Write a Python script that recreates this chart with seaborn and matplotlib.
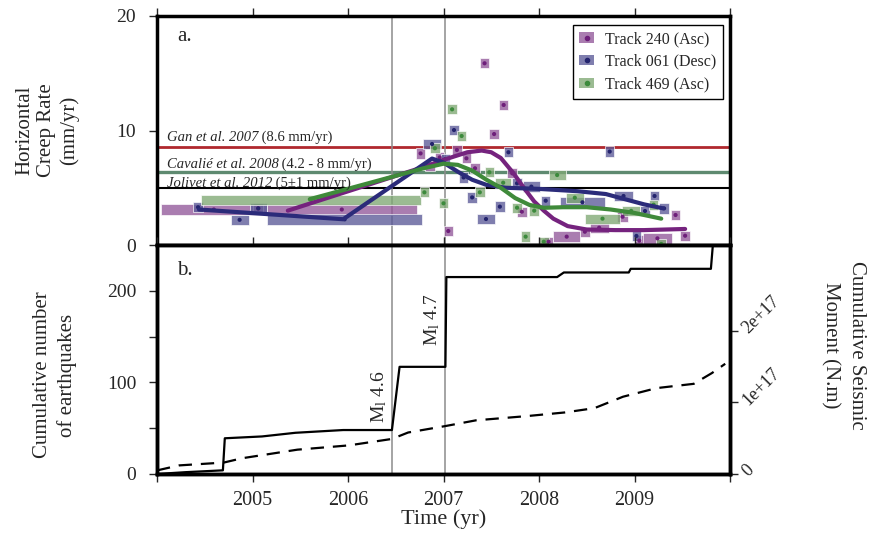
import numpy as np
import matplotlib
matplotlib.use("Agg")
import matplotlib.pyplot as plt
from matplotlib.patches import Patch
from matplotlib.lines import Line2D
from matplotlib.legend_handler import HandlerTuple
import seaborn as sns

##---------------- DATA ----------------
# creep rate estimates: start / end of each time span (equal -> single square), rate in mm/yr
t240_start = [2004.04, 2005.15, 2005.06, 2006.76, 2006.86, 2006.96, 2007.05, 2007.14, 2007.24, 2007.33,
              2007.43, 2007.53, 2007.63, 2007.72, 2007.82, 2008.10, 2008.15, 2008.48, 2008.53, 2008.82,
              2009.05, 2009.09, 2009.43, 2009.53]
t240_end = [2005.15, 2006.72, 2005.06, 2006.76, 2006.86, 2006.96, 2007.05, 2007.14, 2007.24, 2007.33,
            2007.43, 2007.53, 2007.63, 2007.72, 2007.82, 2008.10, 2008.43, 2008.48, 2008.73, 2008.93,
            2009.05, 2009.39, 2009.43, 2009.53]
t240_rate = [3.1, 3.1, 3.2, 8.0, 6.9, 7.65, 1.22, 8.3, 7.57, 6.7,
             15.87, 9.69, 12.23, 6.26, 2.9, 0.29, 0.73, 1.16, 1.51, 2.47,
             0.38, 0.58, 2.62, 0.81]

t061_start = [2004.43, 2004.77, 2004.97, 2005.15, 2006.79, 2007.02, 2007.11, 2007.21, 2007.30, 2007.35,
              2007.59, 2007.68, 2007.77, 2007.83, 2008.07, 2008.22, 2008.74, 2008.79, 2009.02, 2009.11,
              2009.21, 2009.31]
t061_end = [2004.43, 2004.96, 2005.15, 2006.78, 2006.97, 2007.02, 2007.11, 2007.21, 2007.30, 2007.54,
            2007.59, 2007.68, 2007.77, 2008.01, 2008.07, 2008.69, 2008.74, 2008.98, 2009.02, 2009.11,
            2009.21, 2009.31]
t061_rate = [3.3, 2.2, 3.2, 2.24, 8.82, 7.5, 10.04, 5.9, 4.16, 2.27,
             3.35, 8.1, 5.39, 5.1, 3.87, 3.73, 8.16, 4.28, 0.79, 2.97,
             4.28, 3.2]

t469_start = [2004.46, 2006.80, 2006.91, 2007.00, 2007.09, 2007.19, 2007.38, 2007.48, 2007.54, 2007.77,
              2007.86, 2007.95, 2008.05, 2008.10, 2008.28, 2008.48, 2008.87, 2009.20, 2009.28]
t469_end = [2006.76, 2006.80, 2006.91, 2007.00, 2007.09, 2007.19, 2007.38, 2007.48, 2007.71, 2007.77,
            2007.86, 2007.95, 2008.05, 2008.28, 2008.47, 2008.85, 2009.06, 2009.20, 2009.28]
t469_rate = [3.96, 4.6, 8.45, 3.64, 11.85, 9.52, 4.6, 6.35, 5.44, 3.26,
             0.73, 3.0, 0.29, 6.11, 4.13, 2.3, 2.98, 3.52, 0.09]

# smoothed creep rate curves
c240_t = [2005.37, 2006.86, 2006.95, 2007.10, 2007.25, 2007.40, 2007.50, 2007.60, 2007.73, 2007.85,
          2007.95, 2008.05, 2008.15, 2008.30, 2008.50, 2008.80, 2009.10, 2009.53]
c240_v = [3.0, 7.0, 7.3, 7.7, 8.1, 8.25, 8.1, 7.6, 6.3, 4.9,
          3.8, 3.0, 2.3, 1.65, 1.35, 1.3, 1.3, 1.4]
c061_t = [2004.44, 2005.95, 2006.88, 2007.00, 2007.15, 2007.30, 2007.45, 2007.65, 2008.00, 2008.40,
          2008.70, 2008.90, 2009.10, 2009.30]
c061_v = [3.1, 2.25, 7.55, 7.2, 6.4, 5.7, 5.25, 5.0, 4.9, 4.7,
          4.45, 4.0, 3.55, 3.2]
c469_t = [2005.60, 2006.79, 2007.00, 2007.15, 2007.30, 2007.45, 2007.60, 2007.75, 2007.90, 2008.05,
          2008.25, 2008.50, 2008.75, 2009.00, 2009.28]
c469_v = [4.0, 6.7, 7.1, 7.0, 6.5, 5.7, 5.0, 4.1, 3.5, 3.25,
          3.3, 3.3, 3.1, 2.8, 2.3]

# previous studies
ref_rates = [8.6, 6.4, 5.0]
ref_labels = [("Gan et al. 2007", " (8.6 mm/yr)"),
              ("Cavalié et al. 2008", " (4.2 - 8 mm/yr)"),
              ("Jolivet et al. 2012", " (5±1 mm/yr)")]

# seismicity
eq_t = [2004.0, 2004.3, 2004.69, 2004.71, 2005.1, 2005.45, 2005.95, 2006.46, 2006.54, 2007.02,
        2007.03, 2008.19, 2008.26, 2008.94, 2008.96, 2009.80, 2009.83]
eq_n = [0, 2, 4, 39, 41, 45, 48, 48, 117, 117,
        215, 215, 220, 220, 224, 224, 262]
mo_t = [2004.0, 2004.23, 2004.70, 2004.89, 2005.47, 2006.01, 2006.46, 2006.63, 2007.02, 2007.34,
        2007.88, 2008.27, 2008.58, 2008.88, 2009.23, 2009.62, 2009.81, 2009.95]
mo_v = [0.05e17, 0.12e17, 0.16e17, 0.22e17, 0.34e17, 0.40e17, 0.49e17, 0.58e17, 0.67e17, 0.75e17,
        0.81e17, 0.86e17, 0.92e17, 1.08e17, 1.20e17, 1.26e17, 1.41e17, 1.54e17]

events_t = [2006.46, 2007.02]
events_lbl = ["M$_\\mathregular{l}$ 4.6", "M$_\\mathregular{l}$ 4.7"]

years = [2004, 2005, 2006, 2007, 2008, 2009, 2010]

##---------------- STYLE ----------------
sns.set_style("ticks")
plt.rcParams['font.family'] = ['Liberation Serif', 'DejaVu Serif']
plt.rcParams['mathtext.fontset'] = 'custom'
plt.rcParams['mathtext.rm'] = 'Liberation Serif'
plt.rcParams['mathtext.it'] = 'Liberation Serif:italic'

colors = {"240": ("#93589a", "#6e1f7a", "#75237e"),
          "061": ("#5b5a98", "#24246e", "#2b2b7a"),
          "469": ("#7fa874", "#3c8a3c", "#3f8a3a")}
SQ_W = 0.1
BAR_H = 0.9

fig = plt.figure(figsize=(8.69, 5.54), dpi=100)
ax1 = fig.add_axes([157/869, 1-245/554, 573/869, 229/554])
ax2 = fig.add_axes([157/869, 1-474/554, 573/869, 229/554])


def draw_track(ax, t0, t1, v, face, dot):
    t0, t1, v = np.array(t0), np.array(t1), np.array(v)
    w = np.maximum(t1 - t0, SQ_W)
    mid = (t0 + t1) / 2
    ax.barh(v, w, left=mid - w/2, height=BAR_H, color=face, alpha=0.78,
            edgecolor="white", linewidth=0.6, zorder=2)
    sns.scatterplot(x=mid, y=v, color=dot, s=9, edgecolor="none", ax=ax, zorder=3, legend=False)


#---top panel: creep rate
for r, c, lw in zip(ref_rates, ["#b0282e", "#5e8a70", "black"], [2.0, 2.4, 1.5]):
    ax1.axhline(r, color=c, lw=lw, zorder=1)
for ev in events_t:
    ax1.axvline(ev, color="#8c8c8c", lw=1.1, zorder=1)

draw_track(ax1, t240_start, t240_end, t240_rate, colors["240"][0], colors["240"][1])
draw_track(ax1, t061_start, t061_end, t061_rate, colors["061"][0], colors["061"][1])
draw_track(ax1, t469_start, t469_end, t469_rate, colors["469"][0], colors["469"][1])

for ct, cv, key in [(c240_t, c240_v, "240"), (c061_t, c061_v, "061"), (c469_t, c469_v, "469")]:
    sns.lineplot(x=ct, y=cv, sort=False, estimator=None, color=colors[key][2], lw=3, ax=ax1, zorder=4)

for r, (it, rm), dy in zip(ref_rates, ref_labels, [0.2, 0.1, -0.2]):
    t = ax1.text(2004.1, r + dy, it, style="italic", fontsize=10.5, va="bottom", ha="left", zorder=5)
    ax1.annotate(rm, xy=(1, 0), xycoords=t, fontsize=10.5, va="bottom", ha="left", zorder=5)

ax1.text(0.035, 0.91, "a.", transform=ax1.transAxes, fontsize=15, va="center")

handles = []
for key in ["240", "061", "469"]:
    handles.append((Patch(facecolor=colors[key][0], alpha=0.78, edgecolor="none"),
                    Line2D([], [], ls="none", marker="o", markersize=3, color=colors[key][1])))
leg = ax1.legend(handles, ["Track 240 (Asc)", "Track 061 (Desc)", "Track 469 (Asc)"],
                 handler_map={tuple: HandlerTuple(ndivide=1)}, loc="upper right",
                 bbox_to_anchor=(0.987, 0.962), borderaxespad=0, fontsize=11.5,
                 handlelength=0.9, handleheight=0.6, labelspacing=0.42, handletextpad=0.7,
                 fancybox=False, framealpha=1, edgecolor="black", borderpad=0.4)
leg.get_frame().set_linewidth(1.0)

ax1.set_xlim(2004, 2010)
ax1.set_ylim(0, 20)
ax1.set_yticks([0, 10, 20])
ax1.set_xticks(years)
ax1.tick_params(axis="x", which="both", top=True, bottom=True, labelbottom=False,
                direction="out", length=6, width=1)
ax1.tick_params(axis="y", direction="out", length=6, width=1, labelsize=14, pad=9)
ax1.set_xlabel("")
ax1.set_ylabel("")

#---bottom panel: seismicity
for ev in events_t:
    ax2.axvline(ev, color="#8c8c8c", lw=1.1, zorder=1)
sns.lineplot(x=eq_t, y=eq_n, sort=False, estimator=None, color="black", lw=1.6, ax=ax2, zorder=3)
ax3 = ax2.twinx()
sns.lineplot(x=mo_t, y=mo_v, sort=False, estimator=None, color="black", lw=1.6, ax=ax3)
ax3.lines[-1].set_dashes([6, 4])

ax2.text(2006.43, 84, events_lbl[0], rotation=90, fontsize=14, ha="right", va="center")
ax2.text(2006.98, 168, events_lbl[1], rotation=90, fontsize=14, ha="right", va="center")
ax2.text(0.035, 0.89, "b.", transform=ax2.transAxes, fontsize=15, va="center")

ax2.set_xlim(2004, 2010)
ax2.set_ylim(0, 250)
ax2.set_xticks(years)
ax2.set_xticklabels([""] + [str(y) for y in years[1:-1]] + [""], fontsize=14.5)
ax2.set_yticks([0, 50, 100, 150, 200])
ax2.set_yticklabels(["0", "", "100", "", "200"], fontsize=14)
ax2.tick_params(axis="x", which="both", top=True, direction="out", length=6, width=1, pad=6)
ax2.tick_params(axis="y", direction="out", length=6, width=1, pad=9)
ax2.set_xlabel("Time (yr)", fontsize=16, labelpad=0)
ax2.set_ylabel("")

ax3.set_ylim(0, 3.2e17)
ax3.set_yticks([0, 1e17, 2e17])
ax3.set_yticklabels(["0", "1e+17", "2e+17"], fontsize=13, rotation=45,
                    rotation_mode="anchor", ha="left", va="center")
ax3.tick_params(axis="y", direction="out", length=6, width=1, pad=5)
ax3.set_ylabel("")

for ax in (ax1, ax2, ax3):
    for s in ax.spines.values():
        s.set_linewidth(2.5)
        s.set_color("black")

fig.text(47/869, 1-130/554, "Horizontal\nCreep Rate\n(mm/yr)", rotation=90, fontsize=15,
         ha="center", va="center", multialignment="center")
fig.text(55/869, 1-375/554, "Cumulative number\nof earthquakes", rotation=90, fontsize=15,
         ha="center", va="center", multialignment="center", linespacing=1.3)
fig.text(843/869, 1-345/554, "Cumulative Seismic\nMoment (N.m)", rotation=270, fontsize=15,
         ha="center", va="center", multialignment="center", linespacing=1.5)

fig.savefig("out.png", dpi=100)
